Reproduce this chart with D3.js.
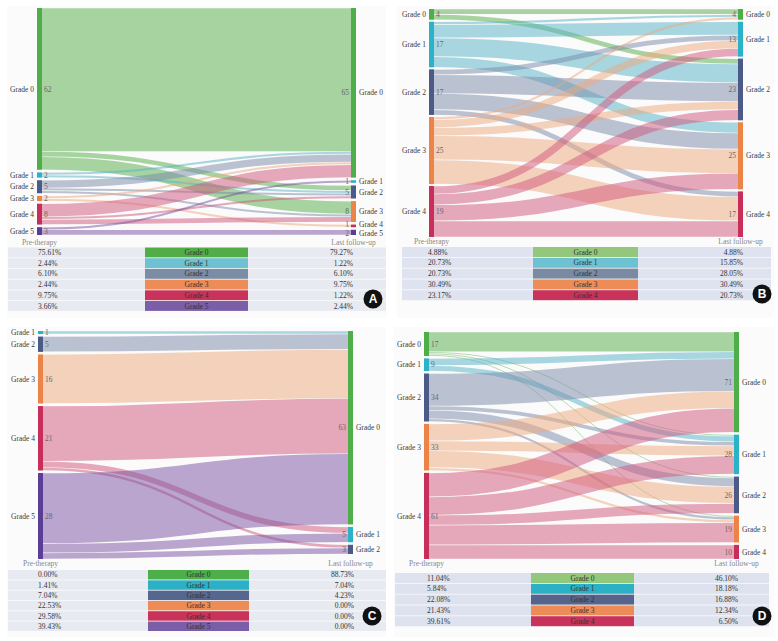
<!DOCTYPE html>
<html><head><meta charset="utf-8">
<script src="https://cdn.jsdelivr.net/npm/d3@7"></script>
<style>
body{margin:0;background:#fff}
svg{display:block}
text{font-family:"Liberation Serif","Times New Roman",serif}
</style>
</head><body>
<svg id="chart" width="778" height="641"></svg>
<script>
// ---------- DATA ----------
const gradeNames = ["Grade 0","Grade 1","Grade 2","Grade 3","Grade 4","Grade 5"];

// Panel A
const aPreGrades = [0,1,2,3,4,5];
const aPre = [62,2,5,2,8,3];
const aPostGrades = [0,1,2,3,4,5];
const aPost = [65,1,5,8,1,2];
const aFlows = [[0,0,55],[0,2,2],[0,3,5],[1,0,1],[1,2,1],[2,0,3],[2,2,1],[2,3,1],[3,0,1],[3,4,1],[4,0,5],[4,2,1],[4,3,2],[5,1,1],[5,5,2]];
const aPrePct = ["75.61%","2.44%","6.10%","2.44%","9.75%","3.66%"];
const aPostPct = ["79.27%","1.22%","6.10%","9.75%","1.22%","2.44%"];

// Panel B
const bPreGrades = [0,1,2,3,4];
const bPre = [4,17,17,25,19];
const bPostGrades = [0,1,2,3,4];
const bPost = [4,13,23,25,17];
const bFlows = [[0,0,2],[0,2,2],[1,0,1],[1,1,5],[1,2,7],[1,3,4],[2,1,2],[2,2,7],[2,3,6],[2,4,2],[3,0,1],[3,1,3],[3,2,3],[3,3,9],[3,4,9],[4,1,3],[4,2,4],[4,3,6],[4,4,6]];
const bPrePct = ["4.88%","20.73%","20.73%","30.49%","23.17%"];
const bPostPct = ["4.88%","15.85%","28.05%","30.49%","20.73%"];

// Panel C
const cPreGrades = [1,2,3,4,5];
const cPre = [1,5,16,21,28];
const cPostGrades = [0,1,2];
const cPost = [63,5,3];
const cFlows = [[1,0,1],[2,0,5],[3,0,16],[4,0,18],[4,1,2],[4,2,1],[5,0,23],[5,1,3],[5,2,2]];
const cPrePct = ["0.00%","1.41%","7.04%","22.53%","29.58%","39.43%"];
const cPostPct = ["88.73%","7.04%","4.23%","0.00%","0.00%","0.00%"];

// Panel D
const dPreGrades = [0,1,2,3,4];
const dPre = [17,9,34,33,61];
const dPostGrades = [0,1,2,3,4];
const dPost = [71,28,26,19,10];
const dFlows = [[0,0,14],[0,1,1],[0,2,1],[0,3,1],[1,0,5],[1,1,4],[2,0,23],[2,1,3],[2,2,6],[2,3,2],[3,0,12],[3,1,7],[3,2,12],[3,3,2],[4,0,17],[4,1,13],[4,2,7],[4,3,14],[4,4,10]];
const dPrePct = ["11.04%","5.84%","22.08%","21.43%","39.61%"];
const dPostPct = ["46.10%","18.18%","16.88%","12.34%","6.50%"];

// ---------- STYLE ----------
const nodeColors = ["#4fae4a","#2ab3c8","#4b5a86","#ec8447","#c82e5a","#5a3e96"];
const linkColors = ["#53ab47","#53b1c7","#7989a9","#eda77b","#cf557b","#774f9f"];
const tableColorsAB = ["#52ad47","#6ec1d0","#7a8da5","#ee8c57","#c9325a","#7a5ea8"];
const tableColorsLight = ["#92c77c","#6ec1d0","#7a8aa3","#ee8c57","#c9325a","#7a5ea8"];
const tableColorsDark = ["#4caf4a","#2bb0c5","#56678f","#ee8c57","#c9325a","#7a5ea8"];
const tableColorsD = ["#92c77c","#2bb0c5","#56648c","#ee8c57","#c9325a","#7a5ea8"];

const panels = [
  {id:"A", preG:aPreGrades, pre:aPre, postG:aPostGrades, post:aPost, flows:aFlows, prePct:aPrePct, postPct:aPostPct,
   bg:[7,6,379,312], x0:37, x1:351, top:8, bottom:235, pad:2.6, labelY:242.6,
   tgtNudge:{4:-2, 5:0.8},
   table:{y0:247.5, rowH:10.7, left:8, midL:145, midR:248, right:386, textL:38, textR:353, bg:"#e8eaf1", colors:tableColorsAB, n:6},
   badge:[373,299]},
  {id:"B", preG:bPreGrades, pre:bPre, postG:bPostGrades, post:bPost, flows:bFlows, prePct:bPrePct, postPct:bPostPct,
   bg:[397,6,377,312], x0:429, x1:738, top:9, bottom:237, pad:2, labelY:241, tgtNudge:{},
   table:{y0:247, rowH:10.8, left:402, midL:533, midR:638, right:771, textL:428, textR:743, bg:"#dfe3ef", colors:tableColorsLight, n:5},
   badge:[762,294]},
  {id:"C", preG:cPreGrades, pre:cPre, postG:cPostGrades, post:cPost, flows:cFlows, prePct:cPrePct, postPct:cPostPct,
   bg:[7,327,379,310], x0:38, x1:348, top:331, bottom:559, pad:2.5, labelY:563, tgtNudge:{},
   table:{y0:570, rowH:10.3, left:8, midL:148, midR:249, right:386, textL:38, textR:354, bg:"#e8eaf1", colors:tableColorsDark, n:6},
   badge:[372,616]},
  {id:"D", preG:dPreGrades, pre:dPre, postG:dPostGrades, post:dPost, flows:dFlows, prePct:dPrePct, postPct:dPostPct,
   bg:[394,327,380,310], x0:424, x1:734, top:332, bottom:559, pad:2.4, labelY:563, tgtNudge:{},
   table:{y0:573, rowH:10.8, left:395, midL:531, midR:634, right:769, textL:427, textR:738, bg:"#dde2ee", colors:tableColorsD, n:5},
   badge:[762,616]}
];

const svg = d3.select("#chart");
const NW = 5;
const FS = 7.5;

panels.forEach(p => {
  const g = svg.append("g");
  g.append("rect").attr("x",p.bg[0]).attr("y",p.bg[1]).attr("width",p.bg[2]).attr("height",p.bg[3]).attr("fill","#fbfbfb");

  const totPre = d3.sum(p.pre), totPost = d3.sum(p.post);
  const H = p.bottom - p.top;
  const ky = Math.min((H - (p.pre.length-1)*p.pad)/totPre, (H - (p.post.length-1)*p.pad)/totPost);
  const vy = d3.scaleLinear().domain([0,1]).range([0,ky]);

  const mk = (grades, vals, x) => {
    let y = p.top;
    return grades.map((gr,i) => {
      const n = {grade:gr, value:vals[i], x0:x, x1:x+NW, y0:y, y1:y+vy(vals[i]), outs:[], ins:[]};
      y = n.y1 + p.pad;
      return n;
    });
  };
  const srcNodes = mk(p.preG, p.pre, p.x0);
  const tgtNodes = mk(p.postG, p.post, p.x1);
  const sByG = new Map(srcNodes.map(n=>[n.grade,n]));
  const tByG = new Map(tgtNodes.map(n=>[n.grade,n]));
  const links = p.flows.map(f => ({s:sByG.get(f[0]), t:tByG.get(f[1]), v:f[2]}));
  links.forEach(l => { l.s.outs.push(l); l.t.ins.push(l); });
  srcNodes.forEach(n => {
    n.outs.sort((a,b)=>a.t.y0-b.t.y0);
    let y = n.y0;
    n.outs.forEach(l => { l.w = vy(l.v); l.ys = y + l.w/2; y += l.w; });
  });
  tgtNodes.forEach(n => {
    n.ins.sort((a,b)=>a.s.y0-b.s.y0);
    let y = n.y0;
    n.ins.forEach(l => { l.yt = y + vy(l.v)/2; y += vy(l.v); });
  });

  const linkGen = d3.linkHorizontal().x(d=>d[0]).y(d=>d[1]);
  g.append("g").selectAll("path").data(links).join("path")
    .attr("d", l => linkGen({source:[l.s.x1, l.ys], target:[l.t.x0, l.yt]}))
    .attr("fill","none")
    .attr("stroke", l => linkColors[l.s.grade])
    .attr("stroke-opacity", 0.5)
    .attr("stroke-width", l => Math.max(0.6, l.w - 0.6));

  const allNodes = srcNodes.concat(tgtNodes);
  g.append("g").selectAll("rect").data(allNodes).join("rect")
    .attr("x", n=>n.x0).attr("y", n=>n.y0).attr("width", NW).attr("height", n=>Math.max(1,n.y1-n.y0))
    .attr("fill", n=>nodeColors[n.grade]);

  const lab = g.append("g").attr("font-size", FS);
  srcNodes.forEach(n => {
    const cy = (n.y0+n.y1)/2;
    lab.append("text").attr("x", n.x0-3).attr("y", cy).attr("dy","0.35em").attr("text-anchor","end").attr("fill","#3a3a3a").text(gradeNames[n.grade]);
    lab.append("text").attr("x", n.x1+2).attr("y", cy).attr("dy","0.35em").attr("fill","#666").text(n.value);
  });
  tgtNodes.forEach(n => {
    const cy = (n.y0+n.y1)/2 + (p.tgtNudge[n.grade] || 0);
    lab.append("text").attr("x", n.x1+3).attr("y", cy).attr("dy","0.35em").attr("fill","#3a3a3a").text(gradeNames[n.grade]);
    lab.append("text").attr("x", n.x0-2).attr("y", cy).attr("dy","0.35em").attr("text-anchor","end").attr("fill","#666").text(n.value);
  });
  lab.append("text").attr("x", p.x0+NW/2).attr("y", p.labelY).attr("dy","0.35em").attr("text-anchor","middle").attr("fill","#888").text("Pre-therapy");
  lab.append("text").attr("x", p.x1+NW/2).attr("y", p.labelY).attr("dy","0.35em").attr("text-anchor","middle").attr("fill","#888").text("Last follow-up");

  const t = p.table;
  const tg = g.append("g").attr("font-size", FS);
  d3.range(t.n).forEach(i => {
    const y = t.y0 + i*t.rowH;
    const h = t.rowH - 0.8;
    tg.append("rect").attr("x",t.left).attr("y",y).attr("width",t.midL-t.left).attr("height",h).attr("fill",t.bg);
    tg.append("rect").attr("x",t.midL).attr("y",y).attr("width",t.midR-t.midL).attr("height",h).attr("fill",t.colors[i]);
    tg.append("rect").attr("x",t.midR).attr("y",y).attr("width",t.right-t.midR).attr("height",h).attr("fill",t.bg);
    const cy = y + h/2;
    tg.append("text").attr("x",t.textL).attr("y",cy).attr("dy","0.35em").attr("fill","#333").text(p.prePct[i]);
    tg.append("text").attr("x",(t.midL+t.midR)/2).attr("y",cy).attr("dy","0.35em").attr("text-anchor","middle").attr("fill","#333").text(gradeNames[i]);
    tg.append("text").attr("x",t.textR).attr("y",cy).attr("dy","0.35em").attr("text-anchor","end").attr("fill","#333").text(p.postPct[i]);
  });

  g.append("circle").attr("cx",p.badge[0]).attr("cy",p.badge[1]).attr("r",9.5).attr("fill","#111");
  g.append("text").attr("x",p.badge[0]).attr("y",p.badge[1]).attr("dy","0.36em").attr("text-anchor","middle")
    .attr("fill","#fff").attr("font-size",12).attr("font-weight","bold")
    .style("font-family","'Liberation Sans', Arial, sans-serif").text(p.id);
});
</script>
</body></html>
